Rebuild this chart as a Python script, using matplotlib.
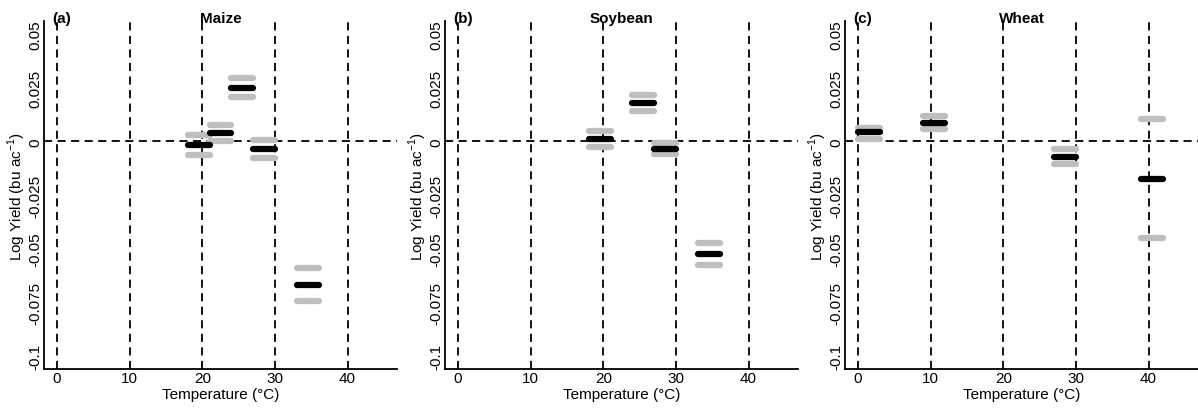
import matplotlib
matplotlib.use('Agg')
import matplotlib.pyplot as plt

plt.rcParams['font.family'] = ['Liberation Sans', 'DejaVu Sans']
plt.rcParams['mathtext.fontset'] = 'custom'
plt.rcParams['mathtext.rm'] = 'Liberation Sans'
plt.rcParams['font.size'] = 11

# data: start of each 3-degree bin, estimate and confidence bounds
bin_width = 3

maize_start = [18, 21, 24, 27, 33]
maize_est = [-0.0019, 0.0037, 0.0250, -0.0036, -0.0668]
maize_upper = [0.0031, 0.0075, 0.0293, 0.0008, -0.0592]
maize_lower = [-0.0065, 0.0000, 0.0204, -0.0079, -0.0743]

soy_start = [18, 24, 27, 33]
soy_est = [0.0009, 0.0179, -0.0034, -0.0523]
soy_upper = [0.0049, 0.0215, -0.0006, -0.0473]
soy_lower = [-0.0028, 0.0142, -0.0059, -0.0575]

wheat_start = [0, 9, 27, 39]
wheat_est = [0.0041, 0.0087, -0.0073, -0.0176]
wheat_upper = [0.0064, 0.0119, -0.0034, 0.0103]
wheat_lower = [0.0011, 0.0056, -0.0107, -0.0451]

crops = ['Maize', 'Soybean', 'Wheat']
panel_labels = ['(a)', '(b)', '(c)']
x_ticks = [0, 10, 20, 30, 40]
y_ticks = [-0.1, -0.075, -0.05, -0.025, 0, 0.025, 0.05]
y_tick_labels = ['-0.1', '-0.075', '-0.05', '-0.025', '0', '0.025', '0.05']

series = [
    (maize_start, maize_est, maize_upper, maize_lower),
    (soy_start, soy_est, soy_upper, soy_lower),
    (wheat_start, wheat_est, wheat_upper, wheat_lower),
]

W, H = 1198, 410
fig = plt.figure(figsize=(W / 100, H / 100), dpi=100)
lefts = [44, 445, 845]
ax_w = 353
ax_top, ax_bot = 22, 370

dash = (0, (4.5, 3))
seg_lw = 4.5

for i in range(3):
    ax = fig.add_axes([lefts[i] / W, (H - ax_bot) / H, ax_w / W, (ax_bot - ax_top) / H])
    start, est, upper, lower = series[i]

    # reference lines
    for xv in x_ticks:
        ax.axvline(xv, color='black', lw=1.3, linestyle=dash, zorder=1)
    ax.axhline(0, color='black', lw=1.3, linestyle=dash, zorder=1)

    for s, e, u, l in zip(start, est, upper, lower):
        xs = [s, s + bin_width]
        ax.plot(xs, [u, u], color='#BEBEBE', lw=seg_lw, solid_capstyle='round', zorder=2)
        ax.plot(xs, [l, l], color='#BEBEBE', lw=seg_lw, solid_capstyle='round', zorder=2)
        ax.plot(xs, [e, e], color='black', lw=seg_lw, solid_capstyle='round', zorder=3)

    ax.set_xlim(-1.8, 46.8)
    ax.set_ylim(-0.106, 0.056)
    ax.set_xticks(x_ticks)
    ax.set_yticks(y_ticks)
    ax.set_yticklabels(y_tick_labels, rotation=90, va='center')
    ax.tick_params(length=0, pad=1.5, labelsize=11)
    for side in ['top', 'right']:
        ax.spines[side].set_visible(False)
    for side in ['left', 'bottom']:
        ax.spines[side].set_linewidth(1.3)

    ax.set_xlabel('Temperature (°C)', fontsize=11)
    ax.xaxis.set_label_coords(0.5, -0.052)
    ax.set_ylabel('Log Yield (bu ac$^{-1}$)', fontsize=11)
    ax.yaxis.set_label_coords(-0.045, 0.5)

    ax.text(0.5, 0.997, crops[i], transform=ax.transAxes, ha='center', va='baseline',
            fontweight='bold', fontsize=11)
    ax.text(0.023, 0.997, panel_labels[i], transform=ax.transAxes, ha='left', va='baseline',
            fontweight='bold', fontsize=11)

fig.savefig('out.png', dpi=100)
